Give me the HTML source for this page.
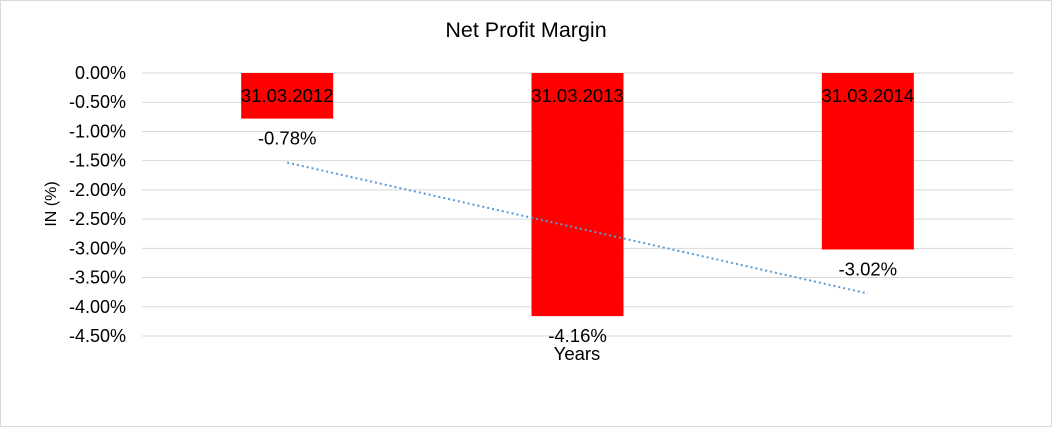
<!DOCTYPE html>
<html><head><meta charset="utf-8"><style>
body{margin:0;background:#fff;}
svg{display:block;font-family:"Liberation Sans",Arial,sans-serif;}
</style></head><body>
<svg id="c" width="1052" height="427">
<rect x="0.5" y="0.5" width="1051" height="426" fill="#fff" stroke="#d9d9d9"/>
<text x="526" y="37" font-size="21.5" text-anchor="middle" fill="#000">Net Profit Margin</text>
<text transform="translate(56,204) rotate(-90)" font-size="16" text-anchor="middle">IN (%)</text>
<text x="577" y="360" font-size="18.5" text-anchor="middle">Years</text>
<g id="grid"></g><g id="bars"></g><g id="labels"></g>
</svg>
<script>
const categories=["31.03.2012","31.03.2013","31.03.2014"];
const values=[-0.78,-4.16,-3.02];
const valueLabels=["-0.78%","-4.16%","-3.02%"];
const ticks=[0,-0.5,-1,-1.5,-2,-2.5,-3,-3.5,-4,-4.5];
const tickLabels=["0.00%","-0.50%","-1.00%","-1.50%","-2.00%","-2.50%","-3.00%","-3.50%","-4.00%","-4.50%"];
const NS="http://www.w3.org/2000/svg";
const L=142,R=1013,T=73,B=336;
const y=v=>T+(-v)/4.5*(B-T);
const bw=(R-L)/categories.length;
const xc=i=>L+bw*(i+0.5);
function mk(t,a,p){const e=document.createElementNS(NS,t);for(const k in a)e.setAttribute(k,a[k]);p.appendChild(e);return e;}
const g=document.getElementById('grid'),bg=document.getElementById('bars'),lg=document.getElementById('labels');
ticks.forEach((t,i)=>{
 const ln=mk('line',{x1:L,x2:R,y1:y(t),y2:y(t),stroke:'#d9d9d9','stroke-width':1},g);
 
 
 const tx=mk('text',{x:126,y:y(t)+6,'font-size':18,'text-anchor':'end'},g);
 tx.textContent=tickLabels[i];
 
 
});
values.forEach((v,i)=>{
 const r=mk('rect',{x:xc(i)-46,y:y(0),width:92,height:y(v)-y(0),fill:'#ff0000'},bg);
 
 
 const c=mk('text',{x:xc(i),y:y(0)+29,'font-size':18.5,'text-anchor':'middle'},lg);
 c.textContent=categories[i];
 
 
 const d=mk('text',{x:xc(i),y:y(v)+26,'font-size':18.5,'text-anchor':'middle'},lg);
 d.textContent=valueLabels[i];
 
 
});
const n=values.length;let mx=0,my=0;values.forEach((v,i)=>{mx+=i;my+=v;});mx/=n;my/=n;
let sxy=0,sxx=0;values.forEach((v,i)=>{sxy+=(i-mx)*(v-my);sxx+=(i-mx)*(i-mx);});
const sl=sxy/sxx,ic=my-sl*mx;
const tl=mk('line',{x1:xc(0),y1:y(ic),x2:xc(n-1),y2:y(ic+sl*(n-1)),stroke:'#5b9bd5','stroke-width':2,'stroke-dasharray':'2,3'},lg);


</script>
</body></html>
